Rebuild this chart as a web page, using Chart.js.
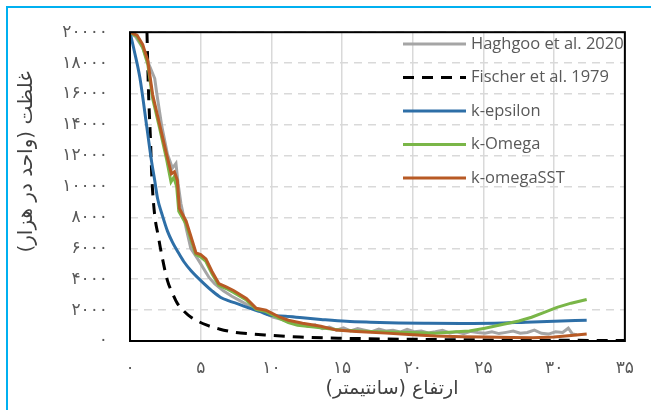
<!DOCTYPE html>
<html>
<head>
<meta charset="utf-8">
<script src="https://cdn.jsdelivr.net/npm/chart.js@4/dist/chart.umd.min.js"></script>
<style>
    body { margin: 0; background: #ffffff; }
    #wrap { position: relative; width: 651px; height: 410px; overflow: hidden; }
    #frame {
        position: absolute; left: 6px; top: 6px; width: 700px; height: 500px;
        border-left: 2px solid #00b0f0; border-top: 2px solid #00b0f0;
        pointer-events: none;
    }
</style>
</head>
<body>
<div id="wrap">
    <canvas id="concChart" width="651" height="410"></canvas>
    <div id="frame"></div>
</div>
<script>
// tick labels
const xTickLabels = ["۰", "۵", "۱۰", "۱۵", "۲۰", "۲۵", "۳۰", "۳۵"];
const yTickLabels = ["۰", "۲۰۰۰", "۴۰۰۰", "۶۰۰۰", "۸۰۰۰", "۱۰۰۰۰", "۱۲۰۰۰", "۱۴۰۰۰", "۱۶۰۰۰", "۱۸۰۰۰", "۲۰۰۰۰"];

const seriesNames = ["Haghgoo et al. 2020", "Fischer et al. 1979", "k-epsilon", "k-Omega", "k-omegaSST"];

// Haghgoo et al. 2020 (measured)
const haghgooX = [0, 0.4, 0.9, 1.3, 1.75, 1.9, 2.25, 2.65, 3.0, 3.25, 3.4, 3.6, 4.0, 4.3, 4.8, 5.2, 5.6, 6.0, 6.6, 7.2, 7.8, 8.4, 9.0, 9.6, 10.1, 10.7, 11.3, 12.0, 12.6, 13.1, 13.6, 14.1, 14.6, 15.1, 15.6, 16.1, 16.6, 17.1, 17.6, 18.1, 18.6, 19.1, 19.6, 20.1, 20.6, 21.1, 21.6, 22.1, 22.6, 23.1, 23.6, 24.1, 24.6, 25.1, 25.6, 26.1, 26.6, 27.1, 27.6, 28.1, 28.6, 29.1, 29.6, 30.1, 30.6, 31.0, 31.3, 31.6];
const haghgooY = [20000, 19700, 19000, 18000, 17000, 16000, 13900, 12100, 11200, 11500, 10200, 8900, 7200, 6000, 5300, 4700, 4100, 3700, 3250, 2900, 2600, 2300, 2000, 1800, 1550, 1400, 1250, 1150, 950, 1050, 800, 900, 700, 850, 650, 800, 700, 600, 780, 650, 700, 580, 750, 600, 650, 520, 600, 700, 520, 600, 480, 620, 550, 500, 600, 480, 560, 650, 500, 550, 700, 500, 450, 600, 550, 830, 450, 400];

// Fischer et al. 1979
const fischerX = [1.2, 1.3, 1.45, 1.55, 1.74, 2.0, 2.23, 2.65, 3.0, 3.35, 3.8, 4.32, 5.44, 6.3, 7.32, 8.5, 9.6, 12.0, 15.0, 20.0, 25.0, 30.0, 35.0];
const fischerY = [20000, 16400, 13000, 10500, 8200, 6800, 5640, 3910, 3100, 2435, 1950, 1540, 1025, 780, 577, 460, 385, 256, 180, 110, 70, 50, 30];

// k-epsilon
const kEpsX = [0, 0.3, 0.7, 1.19, 1.53, 1.74, 1.95, 2.3, 2.65, 3.0, 3.35, 3.8, 4.32, 5.23, 5.8, 6.42, 7.0, 7.53, 8.5, 9.2, 9.9, 11.0, 12.2, 13.5, 15.3, 17.0, 19.0, 21.1, 23.5, 25.8, 28.0, 30.0, 32.3];
const kEpsY = [20000, 18800, 17050, 13850, 11600, 10450, 9230, 8100, 7115, 6400, 5830, 5150, 4550, 3720, 3250, 2820, 2600, 2435, 2115, 1900, 1667, 1600, 1500, 1400, 1280, 1220, 1170, 1150, 1140, 1150, 1220, 1280, 1345];

// k-Omega
const kOmegaX = [0, 0.5, 0.9, 1.26, 1.6, 2.09, 2.58, 2.9, 3.1, 3.3, 3.45, 3.95, 4.3, 4.65, 5.0, 5.37, 5.8, 6.28, 6.8, 7.32, 8.23, 8.93, 9.62, 10.6, 11.2, 11.85, 13.0, 15.0, 17.0, 19.0, 20.5, 21.6, 22.8, 24.0, 25.1, 26.5, 27.5, 28.4, 29.3, 30.2, 31.2, 32.3];
const kOmegaY = [20000, 19700, 19000, 17900, 15700, 13800, 11800, 10300, 10600, 10000, 8400, 7600, 6600, 5600, 5450, 5150, 4350, 3600, 3400, 3150, 2650, 2050, 1900, 1450, 1200, 1025, 900, 700, 620, 560, 530, 510, 580, 650, 830, 1100, 1300, 1540, 1850, 2180, 2450, 2690];

// k-omegaSST
const kSstX = [0, 0.5, 0.9, 1.26, 1.6, 2.09, 2.58, 2.93, 3.14, 3.35, 3.49, 3.97, 4.3, 4.67, 5.0, 5.37, 5.8, 6.28, 6.8, 7.32, 8.23, 8.93, 9.62, 10.6, 11.2, 12.2, 13.5, 14.6, 16.0, 18.1, 20.0, 21.6, 23.5, 25.1, 27.0, 28.5, 30.0, 31.2, 32.3];
const kSstY = [20000, 19800, 19200, 18140, 15960, 14040, 12115, 10830, 10960, 10400, 8590, 7760, 6800, 5700, 5600, 5320, 4500, 3720, 3500, 3270, 2760, 2115, 1990, 1540, 1345, 1150, 950, 705, 620, 510, 400, 320, 280, 256, 220, 210, 260, 350, 450];

function toPoints(xs, ys) {
    return xs.map((x, i) => ({ x: x, y: ys[i] }));
}

const textColor = "#595959";

// black frame, legend inside plot, axis titles
const extrasPlugin = {
    id: "extras",
    afterDraw(chart) {
        const ctx = chart.ctx;
        const a = chart.chartArea;

        ctx.save();
        ctx.strokeStyle = "#000000";
        ctx.lineWidth = 2;
        ctx.strokeRect(a.left, a.top, a.right - a.left, a.bottom - a.top);

        // legend
        ctx.font = "16.5px 'Open Sans'";
        ctx.textBaseline = "middle";
        ctx.textAlign = "left";
        chart.data.datasets.forEach((ds, i) => {
            const y = 44 + i * 33.5;
            ctx.beginPath();
            ctx.strokeStyle = ds.borderColor;
            ctx.lineWidth = ds.borderWidth;
            ctx.setLineDash(ds.borderDash || []);
            ctx.moveTo(403, y);
            ctx.lineTo(466, y);
            ctx.stroke();
            ctx.setLineDash([]);
            ctx.fillStyle = textColor;
            ctx.fillText(ds.label, 471, y);
        });

        // axis titles
        ctx.fillStyle = "#404040";
        ctx.font = "19px 'DejaVu Sans'";
        ctx.direction = "rtl";
        ctx.textAlign = "center";
        ctx.fillText("ارتفاع (سانتیمتر)", 392, 389);

        ctx.translate(27, 162);
        ctx.rotate(-Math.PI / 2);
        ctx.font = "20px 'DejaVu Sans'";
        ctx.fillText("غلظت (واحد در هزار)", 0, 0);
        ctx.restore();
    }
};

const ctx = document.getElementById("concChart").getContext("2d");

new Chart(ctx, {
    type: "line",
    data: {
        datasets: [
            {
                label: seriesNames[0],
                data: toPoints(haghgooX, haghgooY),
                borderColor: "#a5a5a5",
                borderWidth: 3,
                tension: 0,
                order: 5
            },
            {
                label: seriesNames[1],
                data: toPoints(fischerX, fischerY),
                borderColor: "#000000",
                borderWidth: 3,
                borderDash: [11, 8],
                cubicInterpolationMode: "monotone",
                order: 4
            },
            {
                label: seriesNames[2],
                data: toPoints(kEpsX, kEpsY),
                borderColor: "#2e6fa7",
                borderWidth: 3,
                cubicInterpolationMode: "monotone",
                order: 3
            },
            {
                label: seriesNames[3],
                data: toPoints(kOmegaX, kOmegaY),
                borderColor: "#7ab648",
                borderWidth: 3,
                tension: 0,
                order: 2
            },
            {
                label: seriesNames[4],
                data: toPoints(kSstX, kSstY),
                borderColor: "#b85a25",
                borderWidth: 3,
                tension: 0,
                order: 1
            }
        ]
    },
    options: {
        responsive: false,
        animation: false,
        devicePixelRatio: 1,
        elements: {
            point: { radius: 0 }
        },
        layout: {
            padding: { left: 0, top: 29, right: 20, bottom: 0 }
        },
        plugins: {
            legend: { display: false },
            tooltip: { enabled: false }
        },
        scales: {
            x: {
                type: "linear",
                min: 0,
                max: 35,
                afterFit(scale) { scale.height = 69; },
                ticks: {
                    stepSize: 5,
                    padding: 17,
                    color: textColor,
                    font: { family: "DejaVu Sans", size: 17 },
                    maxRotation: 0,
                    callback: (value, index) => xTickLabels[index]
                },
                grid: {
                    color: "#d9d9d9",
                    lineWidth: 1.5,
                    drawTicks: false
                },
                border: { display: false }
            },
            y: {
                min: 0,
                max: 20000,
                afterFit(scale) { scale.width = 130; },
                ticks: {
                    stepSize: 2000,
                    padding: 22,
                    color: textColor,
                    font: { family: "DejaVu Sans", size: 17 },
                    callback: (value, index) => yTickLabels[index]
                },
                grid: {
                    color: "#d9d9d9",
                    lineWidth: 1.5,
                    drawTicks: false
                },
                border: { display: false, dash: [8, 6] }
            }
        }
    },
    plugins: [extrasPlugin]
});
</script>
</body>
</html>
